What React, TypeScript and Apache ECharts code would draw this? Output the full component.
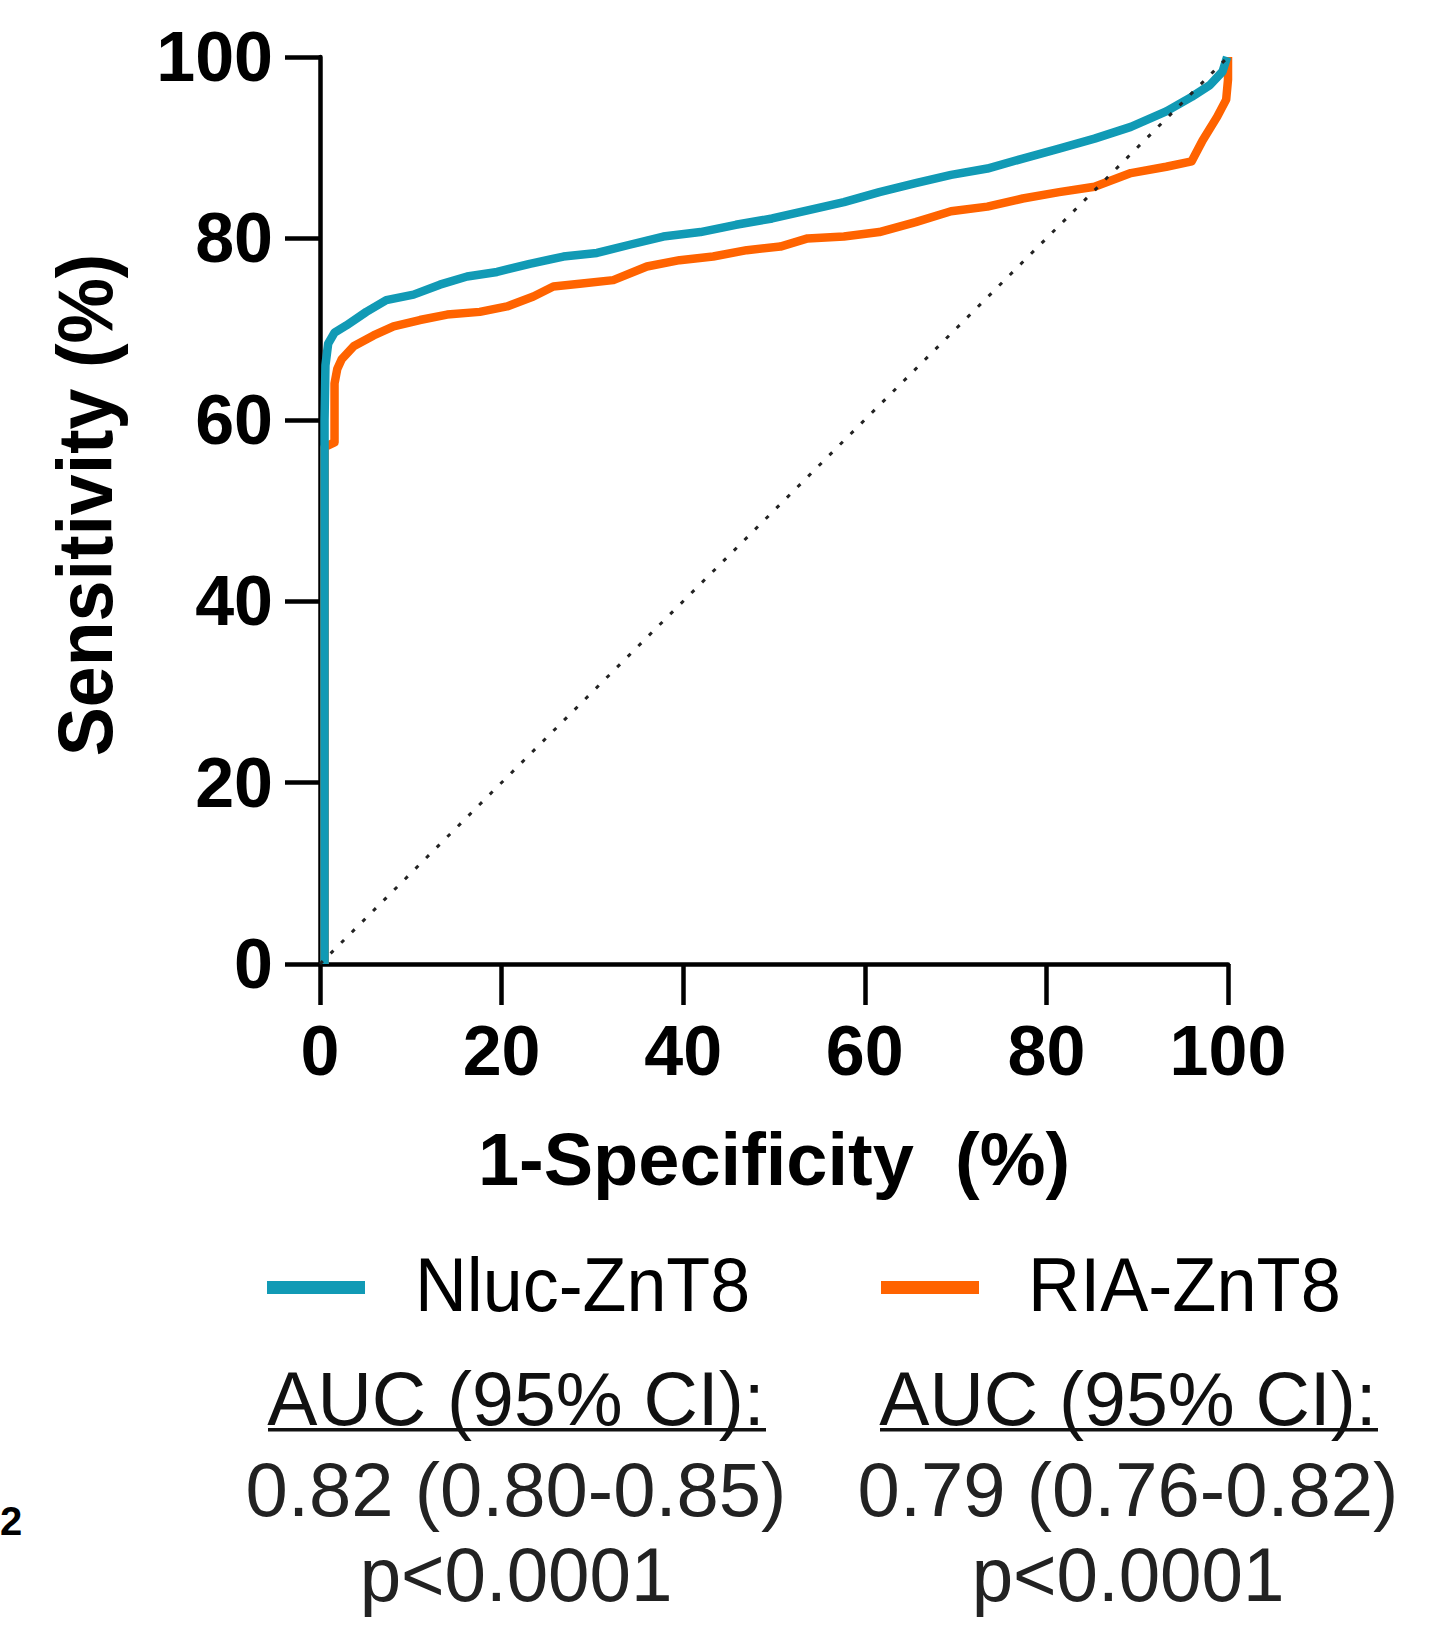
import React, { useEffect, useRef } from "react";
import * as echarts from "echarts";

// ---- data ----
const xTicks = [0, 20, 40, 60, 80, 100];
const yTicks = [0, 20, 40, 60, 80, 100];

const seriesNames = ["Nluc-ZnT8", "RIA-ZnT8"];

// Nluc-ZnT8 ROC curve: [1-specificity %, sensitivity %]
const nlucRoc: number[][] = [
  [0.5, 0], [0.5, 60], [0.6, 66], [0.9, 68.4], [1.6, 69.6], [2.9, 70.4],
  [5.1, 71.9], [7.3, 73.2], [10.3, 73.8], [13.2, 74.9], [16.2, 75.8],
  [19.5, 76.3], [23.1, 77.2], [26.8, 78.0], [30.5, 78.4], [34.1, 79.3],
  [37.8, 80.2], [41.9, 80.7], [45.8, 81.5], [49.8, 82.2], [53.7, 83.1],
  [57.7, 84.0], [61.6, 85.1], [65.6, 86.1], [69.5, 87.0], [73.5, 87.7],
  [77.4, 88.8], [81.4, 89.9], [85.3, 91.0], [89.3, 92.3], [93.2, 94.0],
  [96.0, 95.6], [98.0, 96.9], [99.4, 98.4], [99.9, 100],
];

// RIA-ZnT8 ROC curve
const riaRoc: number[][] = [
  [0.5, 0], [0.5, 57], [1.6, 57.5], [1.6, 64], [1.9, 65.6], [2.4, 66.7],
  [3.7, 68.1], [5.9, 69.3], [8.1, 70.3], [11.0, 71.0], [14.0, 71.6],
  [17.6, 71.9], [20.6, 72.5], [23.5, 73.6], [25.7, 74.7], [28.6, 75.0],
  [32.3, 75.4], [36.0, 76.9], [39.6, 77.6], [43.3, 78.0], [47.0, 78.7],
  [50.7, 79.1], [53.7, 80.0], [57.7, 80.2], [61.6, 80.7], [65.6, 81.8],
  [69.5, 83.0], [73.5, 83.5], [77.4, 84.4], [81.4, 85.1], [85.3, 85.7],
  [89.3, 87.2], [93.2, 87.9], [96.0, 88.5], [97.2, 90.8], [98.8, 93.4],
  [99.8, 95.3], [100, 97.5], [100, 100],
];

// chance line
const chanceLine: number[][] = [[0, 0], [100, 100]];

const xTitle = "1-Specificity  (%)";
const yTitle = "Sensitivity (%)";
const aucHeader = "AUC (95% CI):";
const aucValues = ["0.82 (0.80-0.85)", "0.79 (0.76-0.82)"];
const pValues = ["p<0.0001", "p<0.0001"];

const TEAL = "#119AB5";
const ORANGE = "#FF6300";
const FONT = "'Liberation Sans', Arial, Helvetica, sans-serif";

export default function App() {
  const ref = useRef<HTMLDivElement>(null);

  useEffect(() => {
    if (!ref.current) return;
    const chart = echarts.init(ref.current, undefined, { renderer: "svg" });

    const txt = (
      text: string,
      x: number,
      y: number,
      fontSize: number,
      opts: any = {}
    ) => ({
      type: "text",
      x,
      y,
      rotation: opts.rotation || 0,
      scaleX: opts.scaleX || 1,
      scaleY: opts.scaleY || 1,
      z: 10,
      style: {
        text,
        fontSize,
        fontFamily: FONT,
        fontWeight: opts.bold ? "bold" : "normal",
        fill: opts.color || "#000",
        textAlign: opts.align || "center",
        align: opts.align || "center",
        textVerticalAlign: "middle",
        verticalAlign: "middle",
      },
    });

    const colCenters = [516, 1128];

    const graphics: any[] = [
      // axis titles
      txt(xTitle, 774, 1159, 74, { bold: true }),
      txt(yTitle, 85, 505, 77, { bold: true, rotation: Math.PI / 2, scaleX: 0.955 }),
      // legend
      {
        type: "rect",
        shape: { x: 267, y: 1281, width: 98, height: 13 },
        style: { fill: TEAL },
      },
      txt(seriesNames[0], 415, 1285, 76, { align: "left", scaleX: 0.945 }),
      {
        type: "rect",
        shape: { x: 881, y: 1281, width: 98, height: 13 },
        style: { fill: ORANGE },
      },
      txt(seriesNames[1], 1028, 1285, 76, { align: "left", scaleX: 0.95 }),
      // panel mark at bottom-left
      txt("2", 0, 1521, 40, { bold: true, align: "left" }),
    ];

    colCenters.forEach((cx, i) => {
      graphics.push(txt(aucHeader, cx, 1399, 76, { color: "#111", scaleX: 0.99 }));
      graphics.push({
        type: "rect",
        shape: { x: cx - 248, y: 1428, width: 498, height: 3.5 },
        style: { fill: "#111" },
      });
      graphics.push(txt(aucValues[i], cx, 1489, 76, { color: "#222" }));
      graphics.push(txt(pValues[i], cx, 1575, 76, { color: "#222", scaleX: 0.98 }));
    });

    const axisCommon = {
      type: "value",
      min: 0,
      max: 100,
      interval: 20,
      axisLine: { show: true, lineStyle: { color: "#000", width: 4.5 } },
      splitLine: { show: false },
    };

    chart.setOption({
      animation: false,
      backgroundColor: "#fff",
      grid: { left: 320, top: 57, width: 908, height: 907, containLabel: false },
      xAxis: {
        ...axisCommon,
        axisTick: { show: true, length: 41, lineStyle: { color: "#000", width: 4.5 } },
        axisLabel: {
          margin: 52,
          fontSize: 70,
          fontWeight: "bold",
          fontFamily: FONT,
          color: "#000",
          formatter: (v: number) => (xTicks.includes(v) ? String(v) : ""),
        },
      },
      yAxis: {
        ...axisCommon,
        axisTick: { show: true, length: 35, lineStyle: { color: "#000", width: 4.5 } },
        axisLabel: {
          margin: 47,
          fontSize: 70,
          fontWeight: "bold",
          fontFamily: FONT,
          color: "#000",
          formatter: (v: number) => (yTicks.includes(v) ? String(v) : ""),
        },
      },
      series: [
        {
          name: seriesNames[1],
          type: "line",
          data: riaRoc,
          showSymbol: false,
          symbol: "none",
          lineStyle: { color: ORANGE, width: 8.5, join: "round" },
          z: 2,
        },
        {
          name: seriesNames[0],
          type: "line",
          data: nlucRoc,
          showSymbol: false,
          symbol: "none",
          lineStyle: { color: TEAL, width: 8.5, join: "round" },
          z: 3,
        },
        {
          name: "chance",
          type: "line",
          data: chanceLine,
          showSymbol: false,
          symbol: "none",
          lineStyle: { color: "#222", width: 3, type: [4, 11] },
          z: 4,
        },
      ],
      graphic: graphics,
    });

    return () => chart.dispose();
  }, []);

  return (
    <div
      ref={ref}
      style={{ position: "absolute", left: 0, top: 0, width: 1440, height: 1628 }}
    />
  );
}
